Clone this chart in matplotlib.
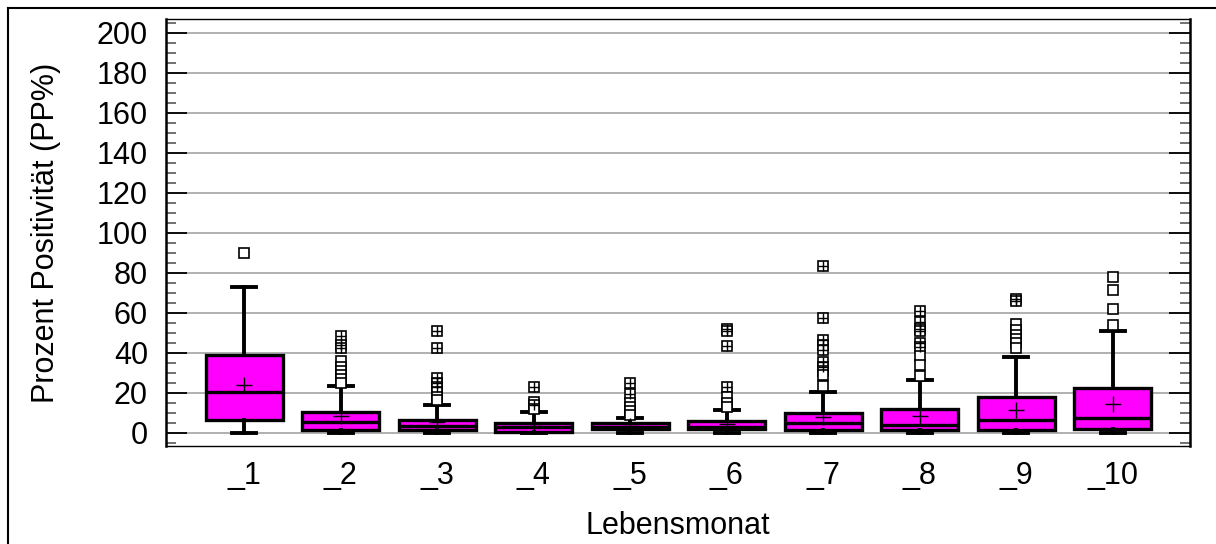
import matplotlib.pyplot as plt
from matplotlib.lines import Line2D
from matplotlib.ticker import MultipleLocator

plt.rcParams['font.family'] = ['Liberation Sans', 'DejaVu Sans']

# Lebensmonat categories and box statistics (Prozent Positivitaet)
labels = ['_1', '_2', '_3', '_4', '_5', '_6', '_7', '_8', '_9', '_10']
q1 = [6.5, 1.5, 1.5, 0.7, 1.8, 1.8, 1.5, 1.5, 1.5, 1.8]
median = [20.3, 5.3, 3.5, 2.8, 3.2, 3.2, 4.8, 4.0, 6.5, 7.7]
q3 = [39.0, 10.7, 6.5, 4.8, 4.8, 6.0, 10.2, 11.8, 18.2, 22.7]
whis_lo = [0, 0, 0, 0, 0, 0, 0, 0, 0, 0]
whis_hi = [72.8, 23.7, 14.0, 10.3, 7.7, 11.5, 20.7, 26.5, 37.8, 51.2]
means = [24.0, 8.7, 5.3, 3.5, 3.5, 4.5, 7.8, 8.7, 11.5, 14.3]

outliers = [
    [90],
    [48.5, 44, 42.5, 36, 33, 31, 29, 27, 25],
    [51, 42.3, 27.5, 25, 23, 20.5, 18, 16.5],
    [23, 15.7, 14, 12],
    [24.8, 19.5, 15, 13, 11, 9],
    [51.8, 51, 43.5, 22.8, 18, 14.8, 13],
    [83.5, 57.3, 46.5, 44, 41.5, 35.7, 33, 31, 29, 23.5],
    [61, 55.7, 51.8, 51, 44.8, 43.2, 38.5, 34, 28.5],
    [67, 66, 54.5, 51.5, 49, 47, 45, 42.5],
    [77.8, 71.5, 61.8, 54],
]
# outliers drawn with overlapping symbols (square with cross)
crossed = [
    [],
    [48.5, 44, 42.5],
    [51, 42.3, 27.5, 25, 23],
    [23, 14],
    [24.8, 19.5],
    [51.8, 51, 43.5, 22.8],
    [83.5, 57.3, 46.5, 44, 41.5, 35.7, 33],
    [61, 55.7, 51.8, 51, 44.8, 43.2],
    [67, 66],
    [],
]

stats = []
for i in range(len(labels)):
    stats.append(dict(q1=q1[i], med=median[i], q3=q3[i], whislo=whis_lo[i],
                      whishi=whis_hi[i], mean=means[i], fliers=outliers[i]))

fig = plt.figure(figsize=(12.16, 5.44), dpi=100)
ax = fig.add_axes([166 / 1216, 1 - 446 / 544, 1024 / 1216, 427 / 544])

positions = list(range(1, len(labels) + 1))
ax.bxp(stats, positions=positions, widths=0.8, capwidths=0.25,
       showmeans=True, patch_artist=True,
       boxprops=dict(facecolor='#ff00ff', edgecolor='black', linewidth=2.4),
       medianprops=dict(color='black', linewidth=2.4),
       whiskerprops=dict(color='black', linewidth=2.8),
       capprops=dict(color='black', linewidth=2.8),
       meanprops=dict(marker='+', markeredgecolor='black', markersize=11,
                      markeredgewidth=1),
       flierprops=dict(marker='s', markerfacecolor='white',
                       markeredgecolor='black', markersize=6.5,
                       markeredgewidth=1.2),
       zorder=3)

for i, vals in enumerate(crossed):
    if vals:
        ax.plot([positions[i]] * len(vals), vals, linestyle='none', marker='+',
                markersize=7, markeredgecolor='black', markeredgewidth=1,
                zorder=4)

ax.set_xlim(0.19, 10.8)
ax.set_ylim(-6.5, 207)
ax.yaxis.set_major_locator(MultipleLocator(20))
ax.yaxis.set_minor_locator(MultipleLocator(5))
ax.set_yticks(range(0, 201, 20))
ax.set_xticks(positions)
ax.set_xticklabels(labels)

ax.grid(axis='y', which='major', color='#b0b0b0', linewidth=1.4, zorder=0)
ax.set_axisbelow(True)

ax.tick_params(axis='y', which='major', direction='in', length=15, width=1.3,
               left=True, right=True, labelsize=22, pad=13, color='black')
ax.tick_params(axis='y', which='minor', direction='in', length=7, width=1.3,
               left=True, right=True, color='#666666')
ax.tick_params(axis='x', length=0, labelsize=22, pad=11)

for side in ['left', 'right']:
    ax.spines[side].set_linewidth(1.8)
ax.spines['top'].set_linewidth(1.0)
ax.spines['bottom'].set_linewidth(1.0)

ax.set_ylabel('Prozent Positivität (PP%)', fontsize=22, labelpad=26)
ax.set_xlabel('Lebensmonat', fontsize=22, labelpad=14)

# outer frame around the whole picture
fig.add_artist(Line2D([8 / 1216, 8 / 1216], [0, 1 - 8 / 544], color='black',
                      linewidth=1.5, transform=fig.transFigure))
fig.add_artist(Line2D([8 / 1216, 1], [1 - 8 / 544, 1 - 8 / 544], color='black',
                      linewidth=1.5, transform=fig.transFigure))

fig.savefig('out.png', dpi=100)
